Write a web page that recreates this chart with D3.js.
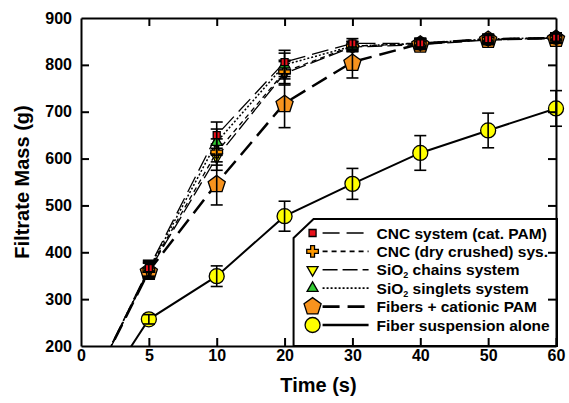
<!DOCTYPE html>
<html>
<head>
<meta charset="utf-8">
<script src="https://cdn.jsdelivr.net/npm/d3@7"></script>
<style>
  body { margin: 0; background: #fff; }
  text { font-family: "Liberation Sans", Arial, sans-serif; font-weight: bold; }
</style>
</head>
<body>
<div id="chart"></div>
<script>
const times = [0, 5, 10, 20, 30, 40, 50, 60];
const xTicks = [0, 5, 10, 20, 30, 40, 50, 60];
const yTicks = [200, 300, 400, 500, 600, 700, 800, 900];

// filtrate mass (g) per series
const cncCatPam = [70, 366, 650, 806, 846, 846, 855, 858];
const cncDry = [70, 362, 614, 785, 840, 845, 854, 857];
const sioChains = [70, 360, 603, 782, 838, 843, 853, 856];
const sioSinglets = [70, 364, 635, 800, 840, 846, 855, 858];
const fibersPam = [70, 360, 547, 718, 806, 845, 855, 857];
const fiberAlone = [35, 257, 349, 477, 546, 612, 660, 707];

// error bar half widths (g)
const cncCatPamErr = [0, 17, 28, 25, 10, 10, 10, 10];
const cncDryErr = [0, 17, 28, 25, 10, 10, 10, 10];
const sioChainsErr = [0, 17, 28, 25, 10, 10, 10, 10];
const sioSingletsErr = [0, 17, 28, 25, 10, 10, 10, 10];
const fibersPamErr = [0, 17, 46, 52, 34, 12, 10, 10];
const fiberAloneErr = [0, 10, 22, 32, 33, 37, 37, 38];

const series = [
  { name: "Fiber suspension alone", values: fiberAlone, err: fiberAloneErr, symbol: "circle", fill: "#ffff00", dash: null, lw: 2 },
  { name: "Fibers + cationic PAM", values: fibersPam, err: fibersPamErr, symbol: "pentagon", fill: "#f7931e", dash: "17,8", lw: 2.5 },
  { name: "SiO2 chains system", values: sioChains, err: sioChainsErr, symbol: "triDown", fill: "#ffff00", dash: "15,5", lw: 1.3 },
  { name: "CNC (dry crushed) sys.", values: cncDry, err: cncDryErr, symbol: "plus", fill: "#ff9900", dash: "5,4", lw: 1.3 },
  { name: "SiO2 singlets system", values: sioSinglets, err: sioSingletsErr, symbol: "triUp", fill: "#33cc33", dash: "2,2", lw: 1.5 },
  { name: "CNC system (cat. PAM)", values: cncCatPam, err: cncCatPamErr, symbol: "square", fill: "#e8111a", dash: "17,7", lw: 1.3 },
];

const legendOrder = [
  "CNC system (cat. PAM)",
  "CNC (dry crushed) sys.",
  "SiO2 chains system",
  "SiO2 singlets system",
  "Fibers + cationic PAM",
  "Fiber suspension alone",
];

const W = 569, H = 403;
const margin = { top: 18, right: 13, bottom: 57, left: 81 };
const width = W - margin.left - margin.right,
  height = H - margin.top - margin.bottom;

const svg = d3.select("#chart").append("svg")
  .attr("width", W).attr("height", H);

const graph = svg.append("g")
  .attr("transform", `translate(${margin.left}, ${margin.top})`);

// ticks are evenly spaced on the original axis
const xScale = d3.scaleLinear()
  .domain(xTicks)
  .range(xTicks.map((d, i) => (i * width) / (xTicks.length - 1)));
const yScale = d3.scaleLinear().domain([200, 900]).range([height, 0]);

svg.append("defs").append("clipPath").attr("id", "clip")
  .append("rect").attr("width", width).attr("height", height);

function symbolPath(type) {
  switch (type) {
    case "circle": return d3.symbol(d3.symbolCircle, Math.PI * 7.5 * 7.5)();
    case "square": return d3.symbol(d3.symbolSquare, 49)();
    case "plus": return d3.symbol(d3.symbolCross, 75)();
    case "triUp": return d3.symbol(d3.symbolTriangle, 52)();
    case "triDown": return d3.symbol(d3.symbolTriangle, 52)();
    case "pentagon": {
      const r = 9;
      const pts = d3.range(5).map((k) => {
        const a = -Math.PI / 2 + (k * 2 * Math.PI) / 5;
        return [r * Math.cos(a), r * Math.sin(a) + 1];
      });
      return "M" + pts.join("L") + "Z";
    }
  }
}

const line = d3.line()
  .x((d) => xScale(d.t))
  .y((d) => yScale(d.v));

const lineLayer = graph.append("g").attr("clip-path", "url(#clip)");

series.forEach((s) => {
  const pts = times.map((t, i) => ({ t: t, v: s.values[i], e: s.err[i] }));
  lineLayer.append("path")
    .datum(pts)
    .attr("fill", "none")
    .attr("stroke", "#000")
    .attr("stroke-width", s.lw)
    .attr("stroke-dasharray", s.dash)
    .attr("d", line);
});

const markLayer = graph.append("g");
series.forEach((s) => {
  const pts = times.map((t, i) => ({ t: t, v: s.values[i], e: s.err[i] })).filter((d) => d.t > 0);
  const g = markLayer.append("g");
  g.selectAll("path.mark")
    .data(pts)
    .enter()
    .append("path")
    .attr("class", "mark")
    .attr("d", symbolPath(s.symbol))
    .attr("transform", (d) => `translate(${xScale(d.t)},${yScale(d.v)})${s.symbol === "triDown" ? " rotate(180)" : ""}`)
    .attr("fill", s.fill)
    .attr("stroke", "#000")
    .attr("stroke-width", 1.3);

  const eb = g.selectAll("g.err").data(pts).enter().append("g").attr("class", "err")
    .attr("stroke", "#000").attr("stroke-width", 1.6);
  eb.append("line")
    .attr("x1", (d) => xScale(d.t)).attr("x2", (d) => xScale(d.t))
    .attr("y1", (d) => yScale(d.v - d.e)).attr("y2", (d) => yScale(d.v + d.e));
  eb.append("line")
    .attr("x1", (d) => xScale(d.t) - 6).attr("x2", (d) => xScale(d.t) + 6)
    .attr("y1", (d) => yScale(d.v - d.e)).attr("y2", (d) => yScale(d.v - d.e));
  eb.append("line")
    .attr("x1", (d) => xScale(d.t) - 6).attr("x2", (d) => xScale(d.t) + 6)
    .attr("y1", (d) => yScale(d.v + d.e)).attr("y2", (d) => yScale(d.v + d.e));
});

// legend box with a cut top-left corner
const lx = xScale(20) + 9, ly = 201, lw = width + 1 - lx;
const legend = graph.append("g");
legend.append("path")
  .attr("d", `M${lx},${ly + 19}L${lx + 20},${ly}L${lx + lw},${ly}L${lx + lw},${height}L${lx},${height}Z`)
  .attr("fill", "#fff")
  .attr("stroke", "#000")
  .attr("stroke-width", 2);

const rows = legend.selectAll(".legend")
  .data(legendOrder.map((n) => series.find((s) => s.name === n)))
  .enter()
  .append("g")
  .attr("class", "legend")
  .attr("transform", (d, i) => `translate(${lx + 19}, ${ly + 14 + i * 18.4})`);

rows.append("line")
  .attr("x1", 10).attr("x2", 56)
  .attr("stroke", "#000")
  .attr("stroke-width", (d) => d.lw + 0.3)
  .attr("stroke-dasharray", (d) => d.dash);

rows.append("path")
  .attr("d", (d) => symbolPath(d.symbol))
  .attr("transform", (d) => (d.symbol === "triDown" ? "rotate(180)" : d.symbol === "pentagon" ? "translate(0,-1)" : null))
  .attr("fill", (d) => d.fill)
  .attr("stroke", "#000")
  .attr("stroke-width", 1.3);

const txt = rows.append("text")
  .attr("x", 64)
  .attr("dy", "0.36em")
  .attr("font-size", "15.5px");
txt.each(function (d) {
  const t = d3.select(this);
  const m = d.name.match(/^SiO2(.*)$/);
  if (m) {
    t.append("tspan").text("SiO");
    t.append("tspan").attr("font-size", "9px").attr("dy", "3").text("2");
    t.append("tspan").attr("dy", "-3").text(m[1]);
  } else {
    t.text(d.name);
  }
});

// axes, ticks pointing inwards on all four sides
const xAxis = d3.axisBottom(xScale).tickValues(xTicks).tickSize(-8).tickSizeOuter(0).tickPadding(4);
const yAxis = d3.axisLeft(yScale).tickValues(yTicks).tickSize(-8).tickSizeOuter(0).tickPadding(9);

const xAxisGroup = graph.append("g").attr("transform", `translate(0, ${height})`).call(xAxis);
const yAxisGroup = graph.append("g").call(yAxis);
graph.append("g").call(d3.axisTop(xScale).tickValues(xTicks.slice(1, -1)).tickSize(-8).tickSizeOuter(0).tickFormat(""));
graph.append("g").attr("transform", `translate(${width}, 0)`)
  .call(d3.axisRight(yScale).tickValues(yTicks.slice(1, -1)).tickSize(-8).tickSizeOuter(0).tickFormat(""));

graph.selectAll(".domain, .tick line").attr("stroke", "#000").attr("stroke-width", 2);
graph.selectAll(".tick text")
  .attr("font-size", "16px")
  .attr("font-family", "'Liberation Sans', Arial, sans-serif")
  .attr("font-weight", "bold")
  .attr("fill", "#000");
xAxisGroup.selectAll(".tick").filter((d) => d === 0).select("line").remove();
yAxisGroup.selectAll(".tick").filter((d) => d === 200 || d === 900).select("line").remove();

svg.append("text")
  .attr("x", margin.left + width / 2)
  .attr("y", 392)
  .attr("text-anchor", "middle")
  .attr("font-size", "20px")
  .text("Time (s)");

svg.append("text")
  .attr("transform", `translate(29, ${margin.top + height / 2}) rotate(-90)`)
  .attr("text-anchor", "middle")
  .attr("font-size", "20px")
  .text("Filtrate Mass (g)");
</script>
</body>
</html>
